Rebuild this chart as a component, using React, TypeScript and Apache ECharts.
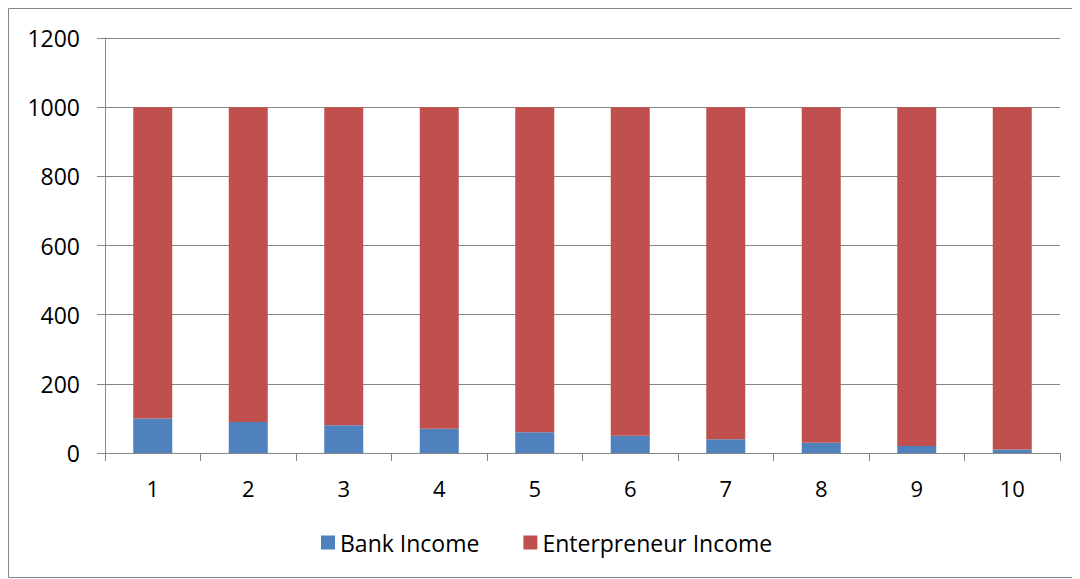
import React, { useEffect, useRef } from "react";
import * as echarts from "echarts";

const categories = ["1", "2", "3", "4", "5", "6", "7", "8", "9", "10"];
const bankIncome = [100, 90, 80, 70, 60, 50, 40, 30, 20, 10];
const enterpreneurIncome = [900, 910, 920, 930, 940, 950, 960, 970, 980, 990];
const yTicks = { min: 0, max: 1200, interval: 200 };

const FONT = "'Open Sans', 'Noto Sans', sans-serif";

export default function App() {
  const ref = useRef<HTMLDivElement>(null);
  useEffect(() => {
    if (!ref.current) return;
    const chart = echarts.init(ref.current, null, { renderer: "svg" });
    chart.setOption({
      animation: false,
      backgroundColor: "#ffffff",
      textStyle: { fontFamily: FONT },
      graphic: [
        {
          type: "rect",
          shape: { x: 0.5, y: 0.5, width: 1069, height: 569 },
          style: { fill: "none", stroke: "#868686", lineWidth: 1 },
          silent: true,
        },
      ],
      grid: { left: 97, top: 30, width: 955, height: 415, containLabel: false },
      legend: {
        data: ["Bank Income", "Enterpreneur Income"],
        left: 308,
        top: 518,
        itemWidth: 14,
        itemHeight: 14,
        itemGap: 44,
        icon: "rect",
        textStyle: { fontFamily: FONT, fontSize: 23, color: "#000" },
      },
      xAxis: {
        type: "category",
        data: categories,
        axisLine: { lineStyle: { color: "#868686", width: 1 } },
        axisTick: { show: true, length: 8, lineStyle: { color: "#868686" } },
        axisLabel: { fontFamily: FONT, fontSize: 22, color: "#000", margin: 24 },
      },
      yAxis: {
        type: "value",
        min: yTicks.min,
        max: yTicks.max,
        interval: yTicks.interval,
        axisLine: { show: true, lineStyle: { color: "#868686", width: 1 } },
        axisTick: { show: true, length: 8, lineStyle: { color: "#868686" } },
        axisLabel: {
          fontFamily: FONT,
          fontSize: 23,
          color: "#000",
          margin: 25,
          formatter: (v: number) => String(v),
        },
        splitLine: { show: true, lineStyle: { color: "#868686", width: 1 } },
      },
      series: [
        {
          name: "Bank Income",
          type: "bar",
          stack: "total",
          data: bankIncome,
          barWidth: 39,
          itemStyle: { color: "#4F81BD" },
        },
        {
          name: "Enterpreneur Income",
          type: "bar",
          stack: "total",
          data: enterpreneurIncome,
          barWidth: 39,
          itemStyle: { color: "#C0504D" },
        },
      ],
    });
    return () => chart.dispose();
  }, []);
  return <div ref={ref} style={{ width: 1072, height: 571 }} />;
}
